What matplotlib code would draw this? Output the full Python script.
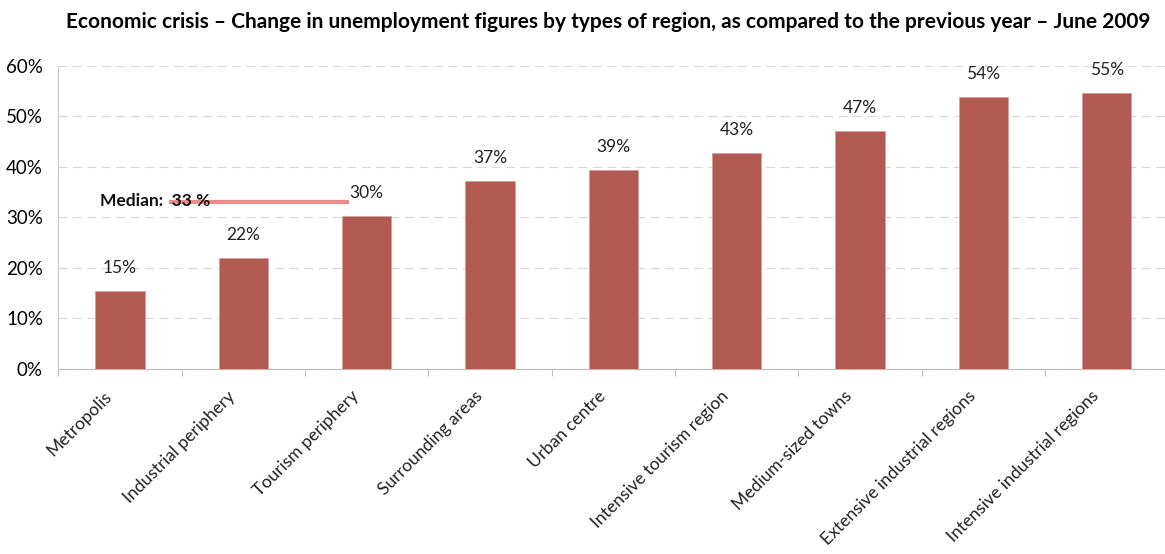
import matplotlib
matplotlib.use('Agg')
import matplotlib.pyplot as plt
from matplotlib.ticker import PercentFormatter
from matplotlib.transforms import ScaledTranslation

plt.rcParams['font.family'] = ['Lato', 'DejaVu Sans']

regions = ['Metropolis', 'Industrial periphery', 'Tourism periphery', 'Surrounding areas',
           'Urban centre', 'Intensive tourism region', 'Medium-sized towns',
           'Extensive industrial regions', 'Intensive industrial regions']
values = [15.4, 22.0, 30.3, 37.2, 39.4, 42.8, 47.1, 53.9, 54.7]
labels = ['15%', '22%', '30%', '37%', '39%', '43%', '47%', '54%', '55%']
median = 33

bar_color = '#b05a52'

fig = plt.figure(figsize=(11.65, 5.54), dpi=100)
ax = fig.add_axes([0.05, 0.334, 0.953, 0.547])

x = list(range(len(regions)))
ax.bar(x, values, width=0.4, color=bar_color, edgecolor='#d9a09a', linewidth=0.6, zorder=3)

for xi, v, lbl in zip(x, values, labels):
    ax.text(xi, v + 3.0, lbl, ha='center', va='bottom', fontsize=12.5, color='#222222', zorder=4)

# median marker
ax.plot([0.4, 1.86], [median, median], color='#f08a8a', lw=3, zorder=4, solid_capstyle='butt')
ax.text(-0.16, median + 0.3, 'Median:  33 %', ha='left', va='center', fontsize=12.5,
        fontweight='bold', color='#111111', zorder=5)

ax.set_xlim(-0.5, len(regions) - 0.5)
ax.set_ylim(0, 60)
ax.set_yticks(range(0, 61, 10))
ax.yaxis.set_major_formatter(PercentFormatter(decimals=0))
ax.grid(axis='y', ls=(0, (8, 5)), color='#d8d8d8', lw=0.8, zorder=0)

# boundary ticks like Excel, category labels drawn as rotated texts
ax.set_xticks([i - 0.5 for i in range(len(regions) + 1)])
ax.set_xticklabels([])
lbl_tr = ax.get_xaxis_transform() + ScaledTranslation(-0.16, -0.19, fig.dpi_scale_trans)
for xi, name in zip(x, regions):
    ax.text(xi, 0, name, transform=lbl_tr, rotation=45, rotation_mode='anchor',
            ha='right', va='top', fontsize=12.6, color='#222222', clip_on=False)
ax.tick_params(axis='x', which='major', length=5, color='#bbbbbb')
ax.tick_params(axis='y', length=0, labelsize=13.5, pad=11)

for side in ['top', 'right']:
    ax.spines[side].set_visible(False)
ax.spines['left'].set_color('#c8c8c8')
ax.spines['bottom'].set_color('#bbbbbb')

fig.suptitle('Economic crisis \u2013 Change in unemployment figures by types of region, '
             'as compared to the previous year \u2013 June 2009',
             x=0.522, y=0.978, fontsize=15, fontweight='bold')

fig.savefig('out.png', dpi=100)
